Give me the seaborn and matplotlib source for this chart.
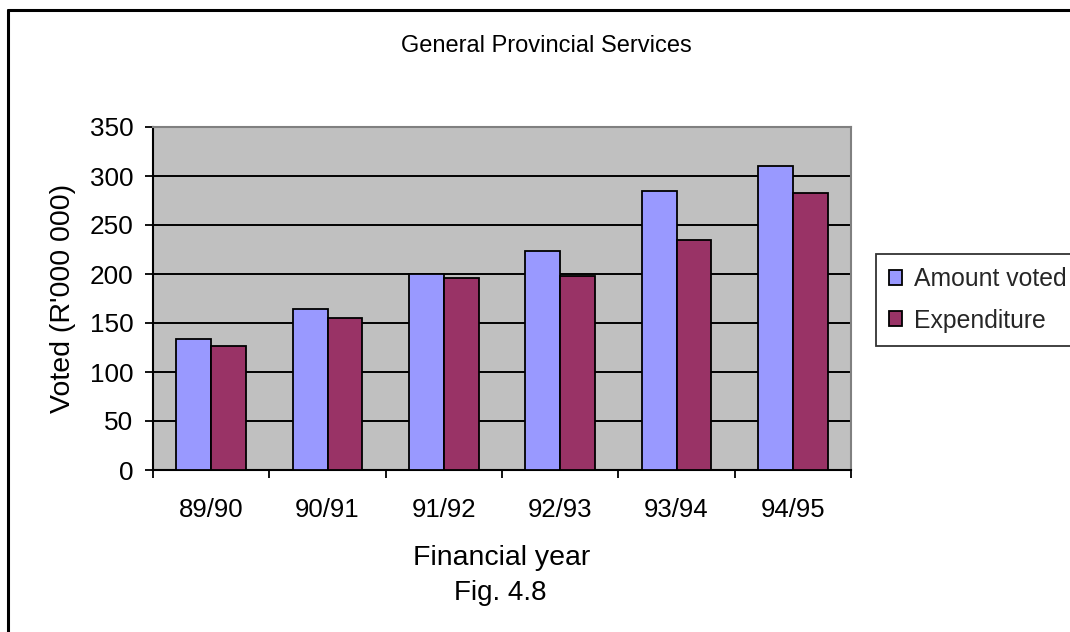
import matplotlib
matplotlib.use("Agg")
import matplotlib.pyplot as plt
from matplotlib.lines import Line2D
from matplotlib.ticker import FixedLocator, MultipleLocator
import pandas as pd
import seaborn as sns

# Financial years and the two series (R'000 000)
years = ["89/90", "90/91", "91/92", "92/93", "93/94", "94/95"]
amount_voted = [134, 164, 200, 223, 285, 310]
expenditure = [127, 155, 196, 198, 235, 283]
series_names = ["Amount voted", "Expenditure"]
series_colors = ["#9999FF", "#993366"]

df = pd.DataFrame({
    "year": years * 2,
    "value": amount_voted + expenditure,
    "series": [series_names[0]] * len(years) + [series_names[1]] * len(years),
})

sns.set_theme(style="white")
plt.rcParams["font.family"] = ["Liberation Sans", "DejaVu Sans"]

W, H = 1070, 632
fig = plt.figure(figsize=(W / 100, H / 100), dpi=100)
fig.patch.set_facecolor("white")

ax = fig.add_axes([153 / W, 1 - 470 / H, (851 - 153) / W, (470 - 127) / H])
ax.set_facecolor("#C0C0C0")

sns.barplot(
    data=df, x="year", y="value", hue="series", order=years,
    hue_order=series_names, palette=series_colors, width=0.6,
    edgecolor="black", linewidth=1.3, saturation=1, ax=ax, zorder=3,
)

handles, labels = ax.get_legend_handles_labels()
if ax.get_legend() is not None:
    ax.get_legend().remove()

# axes limits, grid and ticks
ax.set_xlim(-0.5, len(years) - 0.5)
ax.set_ylim(0, 350)
ax.yaxis.set_major_locator(MultipleLocator(50))
ax.yaxis.grid(True, color="black", linewidth=1.4, zorder=1)
ax.xaxis.grid(False)
ax.set_axisbelow(True)

ax.tick_params(axis="y", which="major", direction="out", length=6, width=1.3,
               color="black", labelsize=18.8, pad=8, left=True, labelcolor="black")
ax.tick_params(axis="x", which="major", length=0, labelsize=18.5, pad=20,
               labelcolor="black")
ax.xaxis.set_minor_locator(FixedLocator([i - 0.5 for i in range(len(years) + 1)]))
ax.tick_params(axis="x", which="minor", direction="out", length=6, width=1.3,
               color="black", bottom=True)

for side in ["left", "bottom"]:
    ax.spines[side].set_color("black")
    ax.spines[side].set_linewidth(1.5)
for side in ["top", "right"]:
    ax.spines[side].set_visible(True)
    ax.spines[side].set_color("#808080")
    ax.spines[side].set_linewidth(1.5)

ax.set_xlabel("Financial year", fontsize=20.5, color="black", labelpad=17)
ax.set_ylabel("Voted (R'000 000)", fontsize=20.5, color="black", labelpad=10)

fig.text(500 / W, 1 - 593 / H, "Fig. 4.8", fontsize=20, ha="center",
         va="center", color="black")
fig.text(546 / W, 1 - 46 / H, "General Provincial Services", fontsize=17,
         ha="center", va="center", color="black")

leg = fig.legend(
    handles, labels, loc="upper left", bbox_to_anchor=(876 / W, 1 - 254 / H),
    frameon=True, fancybox=False, fontsize=17.8, handlelength=0.55,
    handleheight=0.55, handletextpad=0.45, labelspacing=0.72, borderpad=0.52,
    borderaxespad=0, facecolor="white", edgecolor="black",
)
leg.get_frame().set_linewidth(1.3)
for h in leg.legend_handles:
    h.set_edgecolor("black")
    h.set_linewidth(1.3)

# outer chart border (left and top edges)
fig.add_artist(Line2D([7.5 / W, 7.5 / W], [0, 1 - 9.5 / H], color="black",
                      linewidth=2.2, transform=fig.transFigure))
fig.add_artist(Line2D([7.5 / W, 1], [1 - 9.5 / H, 1 - 9.5 / H], color="black",
                      linewidth=2.2, transform=fig.transFigure))

fig.savefig("out.png", dpi=100)
